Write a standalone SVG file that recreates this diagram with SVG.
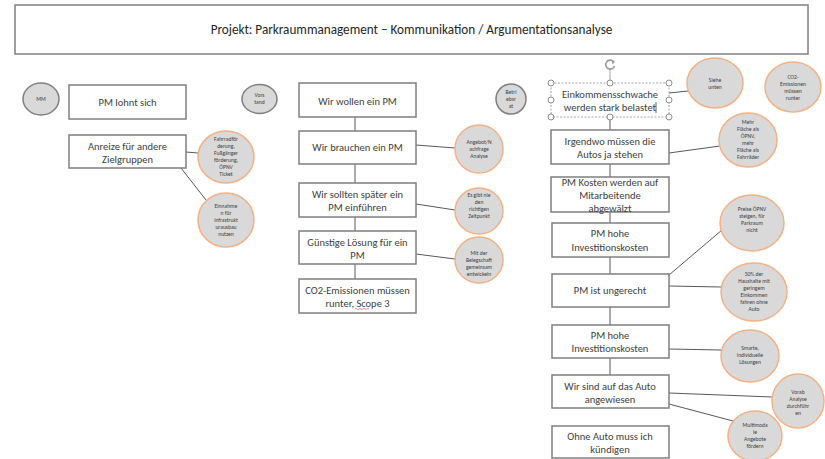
<svg xmlns="http://www.w3.org/2000/svg" width="825" height="459" viewBox="0 0 825 459">
<defs>
<style>
.box{fill:#ffffff;stroke:#7f7f7f;stroke-width:1.5}
.bt{font-family:Carlito,Lato,"Liberation Sans",sans-serif;font-size:10.5px;fill:#404040;text-anchor:middle}
.ttl{font-family:Carlito,Lato,"Liberation Sans",sans-serif;font-size:13.2px;fill:#262626;text-anchor:middle}
.cir{fill:#d9d9d9;stroke:#f4b183;stroke-width:1.5}
.spk{fill:#d9d9d9;stroke:#7f7f7f;stroke-width:1.5}
.ct{font-family:Carlito,Lato,"Liberation Sans",sans-serif;font-size:5.6px;fill:#404040;text-anchor:middle}
.con{stroke:#595959;stroke-width:1;fill:none}
.hdl{fill:#ffffff;stroke:#8c8c8c;stroke-width:1}
</style>
</defs>
<rect width="825" height="459" fill="#ffffff"/>

<g id="title">
<rect x="15" y="5" width="793" height="49" class="box"/>
<text x="411.5" y="34" class="ttl">Projekt: Parkraummanagement – Kommunikation / Argumentationsanalyse</text>
</g>

<g id="connectors">
<line x1="186" y1="152" x2="198" y2="153" class="con"/>
<line x1="181" y1="168" x2="206" y2="200" class="con"/>
<line x1="355" y1="117" x2="355" y2="131" class="con"/>
<line x1="355" y1="164" x2="355" y2="183" class="con"/>
<line x1="355" y1="217" x2="355" y2="231" class="con"/>
<line x1="355" y1="264" x2="355" y2="279" class="con"/>
<line x1="416" y1="145" x2="455" y2="148" class="con"/>
<line x1="416" y1="204" x2="455" y2="210" class="con"/>
<line x1="416" y1="254" x2="455" y2="259" class="con"/>
<line x1="610" y1="117" x2="610" y2="130" class="con"/>
<line x1="610" y1="164" x2="610" y2="177" class="con"/>
<line x1="610" y1="212" x2="610" y2="223" class="con"/>
<line x1="610" y1="257" x2="610" y2="274" class="con"/>
<line x1="610" y1="307" x2="610" y2="325" class="con"/>
<line x1="610" y1="358" x2="610" y2="375" class="con"/>
<line x1="669" y1="93" x2="688" y2="91" class="con"/>
<line x1="669" y1="153" x2="720" y2="146" class="con"/>
<line x1="669" y1="275" x2="722" y2="230" class="con"/>
<line x1="669" y1="286" x2="721" y2="287" class="con"/>
<line x1="669" y1="349" x2="721" y2="350" class="con"/>
<line x1="669" y1="393" x2="772" y2="397" class="con"/>
<line x1="669" y1="404" x2="733" y2="421" class="con"/>
</g>

<!-- speakers -->
<g id="mm">
<ellipse cx="41" cy="99" rx="18" ry="16" class="spk"/>
<text x="41" y="101" class="ct">MM</text>
</g>
<g id="vorstand">
<ellipse cx="259.5" cy="99" rx="17.5" ry="14.5" class="spk"/>
<text class="ct"><tspan x="259.5" y="97">Vors</tspan><tspan x="259.5" y="104">tand</tspan></text>
</g>
<g id="betriebsrat">
<ellipse cx="511" cy="99" rx="15" ry="15" class="spk"/>
<text class="ct"><tspan x="511" y="94">Betri</tspan><tspan x="511" y="101">ebsr</tspan><tspan x="511" y="108">at</tspan></text>
</g>

<!-- left column -->
<g id="pm-lohnt">
<rect x="69" y="85" width="117" height="34" class="box"/>
<text x="127.5" y="106" class="bt">PM lohnt sich</text>
</g>
<g id="anreize">
<rect x="69" y="135" width="117" height="33" class="box"/>
<text class="bt"><tspan x="127.5" y="150">Anreize für andere</tspan><tspan x="127.5" y="163">Zielgruppen</tspan></text>
</g>
<g id="c-fahrrad">
<ellipse cx="226" cy="157" rx="28" ry="26" class="cir"/>
<text class="ct"><tspan x="226" y="141">Fahrradför</tspan><tspan x="226" y="148">derung,</tspan><tspan x="226" y="155">Fußgänger</tspan><tspan x="226" y="162">förderung,</tspan><tspan x="226" y="169">ÖPNV</tspan><tspan x="226" y="176">Ticket</tspan></text>
</g>
<g id="c-einnahmen">
<ellipse cx="226" cy="220" rx="28" ry="27" class="cir"/>
<text class="ct"><tspan x="226" y="208">Einnahme</tspan><tspan x="226" y="215">n für</tspan><tspan x="226" y="222">infrastrukt</tspan><tspan x="226" y="229">urausbau</tspan><tspan x="226" y="236">nutzen</tspan></text>
</g>

<!-- middle column -->
<g id="wir-wollen">
<rect x="299" y="83" width="117" height="34" class="box"/>
<text x="357.5" y="105" class="bt">Wir wollen ein PM</text>
</g>
<g id="wir-brauchen">
<rect x="299" y="131" width="117" height="33" class="box"/>
<text x="357.5" y="151" class="bt">Wir brauchen ein PM</text>
</g>
<g id="wir-sollten">
<rect x="299" y="183" width="117" height="34" class="box"/>
<text class="bt"><tspan x="357.5" y="198">Wir sollten später ein</tspan><tspan x="357.5" y="211">PM einführen</tspan></text>
</g>
<g id="guenstig">
<rect x="299" y="231" width="117" height="33" class="box"/>
<text class="bt"><tspan x="357.5" y="246">Günstige Lösung für ein</tspan><tspan x="357.5" y="259">PM</tspan></text>
</g>
<g id="co2-box">
<rect x="299" y="279" width="117" height="34" class="box"/>
<text class="bt"><tspan x="357.5" y="294">CO2-Emissionen müssen</tspan><tspan x="357.5" y="307">runter, Scope 3</tspan></text>
<path d="M355,309 q1,-1 2,0 t2,0 t2,0 t2,0 t2,0 t2,0 t2,0" stroke="#e06060" stroke-width="0.7" fill="none"/>
</g>
<g id="c-angebot">
<ellipse cx="479" cy="149" rx="24" ry="24" class="cir"/>
<text class="ct"><tspan x="479" y="144">Angebot/N</tspan><tspan x="479" y="151">achfrage</tspan><tspan x="479" y="158">Analyse</tspan></text>
</g>
<g id="c-zeitpunkt">
<ellipse cx="479" cy="211" rx="24" ry="23" class="cir"/>
<text class="ct"><tspan x="479" y="197">Es gibt nie</tspan><tspan x="479" y="204">den</tspan><tspan x="479" y="211">richtigen</tspan><tspan x="479" y="218">Zeitpunkt</tspan></text>
</g>
<g id="c-belegschaft">
<ellipse cx="479" cy="260" rx="24" ry="23" class="cir"/>
<text class="ct"><tspan x="479" y="255">Mit der</tspan><tspan x="479" y="262">Belegschaft</tspan><tspan x="479" y="269">gemeinsam</tspan><tspan x="479" y="276">entwickeln</tspan></text>
</g>

<!-- right column -->
<g id="einkommen">
<rect x="551" y="83" width="118" height="34" fill="#ffffff" stroke="#a6a6a6" stroke-width="1" stroke-dasharray="2,1.5"/>
<text class="bt"><tspan x="610" y="98">Einkommensschwache</tspan><tspan x="610" y="111">werden stark belastet</tspan></text>
<line x1="656" y1="102" x2="656" y2="113" stroke="#404040" stroke-width="0.8"/>
<line x1="610" y1="70" x2="610" y2="80" stroke="#a6a6a6" stroke-width="1"/>
<path d="M613.5,61.5 A4.5,4.5 0 1 0 614.5,66" stroke="#9a9a9a" stroke-width="1.6" fill="none"/>
<path d="M611.5,59.5 L615,61.8 L612.5,64.5 Z" fill="#9a9a9a"/>
<circle cx="551" cy="83" r="3" class="hdl"/>
<circle cx="610" cy="83" r="3" class="hdl"/>
<circle cx="669" cy="83" r="3" class="hdl"/>
<circle cx="551" cy="100" r="3" class="hdl"/>
<circle cx="669" cy="100" r="3" class="hdl"/>
<circle cx="551" cy="117" r="3" class="hdl"/>
<circle cx="610" cy="117" r="3" class="hdl"/>
<circle cx="669" cy="117" r="3" class="hdl"/>
</g>
<g id="irgendwo">
<rect x="551" y="130" width="118" height="34" class="box"/>
<text class="bt"><tspan x="610" y="145">Irgendwo müssen die</tspan><tspan x="610" y="158">Autos ja stehen</tspan></text>
</g>
<g id="pm-kosten">
<rect x="551" y="177" width="118" height="35" class="box"/>
<text class="bt"><tspan x="610" y="186">PM Kosten werden auf</tspan><tspan x="610" y="199">Mitarbeitende</tspan><tspan x="610" y="212">abgewälzt</tspan></text>
</g>
<g id="pm-hohe-1">
<rect x="552" y="223" width="117" height="34" class="box"/>
<text class="bt"><tspan x="610" y="237">PM hohe</tspan><tspan x="610" y="251">Investitionskosten</tspan></text>
</g>
<g id="ungerecht">
<rect x="552" y="274" width="117" height="33" class="box"/>
<text x="610" y="294" class="bt">PM ist ungerecht</text>
</g>
<g id="pm-hohe-2">
<rect x="552" y="325" width="117" height="33" class="box"/>
<text class="bt"><tspan x="610" y="339">PM hohe</tspan><tspan x="610" y="352">Investitionskosten</tspan></text>
</g>
<g id="auto-angewiesen">
<rect x="552" y="375" width="117" height="33" class="box"/>
<text class="bt"><tspan x="610" y="390">Wir sind auf das Auto</tspan><tspan x="610" y="403">angewiesen</tspan></text>
</g>
<g id="kuendigen">
<rect x="552" y="426" width="117" height="32" class="box"/>
<text class="bt"><tspan x="610" y="440">Ohne Auto muss ich</tspan><tspan x="610" y="453">kündigen</tspan></text>
</g>
<g id="c-siehe">
<ellipse cx="715" cy="83" rx="28" ry="25" class="cir"/>
<text class="ct"><tspan x="715" y="82">Siehe</tspan><tspan x="715" y="89">unten</tspan></text>
</g>
<g id="c-co2">
<ellipse cx="793" cy="87" rx="28" ry="25" class="cir"/>
<text class="ct"><tspan x="793" y="79">CO2-</tspan><tspan x="793" y="86">Emissionen</tspan><tspan x="793" y="93">müssen</tspan><tspan x="793" y="100">runter</tspan></text>
</g>
<g id="c-flaeche">
<ellipse cx="748" cy="140" rx="29" ry="27" class="cir"/>
<text class="ct"><tspan x="748" y="124">Mehr</tspan><tspan x="748" y="131">Fläche als</tspan><tspan x="748" y="138">ÖPNV,</tspan><tspan x="748" y="145">mehr</tspan><tspan x="748" y="152">Fläche als</tspan><tspan x="748" y="159">Fahrräder</tspan></text>
</g>
<g id="c-preise">
<ellipse cx="752" cy="223" rx="32" ry="28" class="cir"/>
<text class="ct"><tspan x="752" y="211">Preise ÖPNV</tspan><tspan x="752" y="218">steigen, für</tspan><tspan x="752" y="225">Parkraum</tspan><tspan x="752" y="232">nicht</tspan></text>
</g>
<g id="c-haushalte">
<ellipse cx="754" cy="292" rx="33" ry="29" class="cir"/>
<text class="ct"><tspan x="754" y="276">50% der</tspan><tspan x="754" y="283">Haushalte mit</tspan><tspan x="754" y="290">geringem</tspan><tspan x="754" y="297">Einkommen</tspan><tspan x="754" y="304">fahren ohne</tspan><tspan x="754" y="311">Auto</tspan></text>
</g>
<g id="c-smarte">
<ellipse cx="750" cy="356" rx="29" ry="26" class="cir"/>
<text class="ct"><tspan x="750" y="350">Smarte,</tspan><tspan x="750" y="357">individuelle</tspan><tspan x="750" y="364">Lösungen</tspan></text>
</g>
<g id="c-vorab">
<ellipse cx="798" cy="401" rx="26" ry="27" class="cir"/>
<text class="ct"><tspan x="798" y="394">Vorab</tspan><tspan x="798" y="401">Analyse</tspan><tspan x="798" y="408">durchführ</tspan><tspan x="798" y="415">en</tspan></text>
</g>
<g id="c-multimodal">
<ellipse cx="755" cy="436" rx="27" ry="25" class="cir"/>
<text class="ct"><tspan x="755" y="427">Multimoda</tspan><tspan x="755" y="434">le</tspan><tspan x="755" y="441">Angebote</tspan><tspan x="755" y="448">fördern</tspan></text>
</g>
</svg>
